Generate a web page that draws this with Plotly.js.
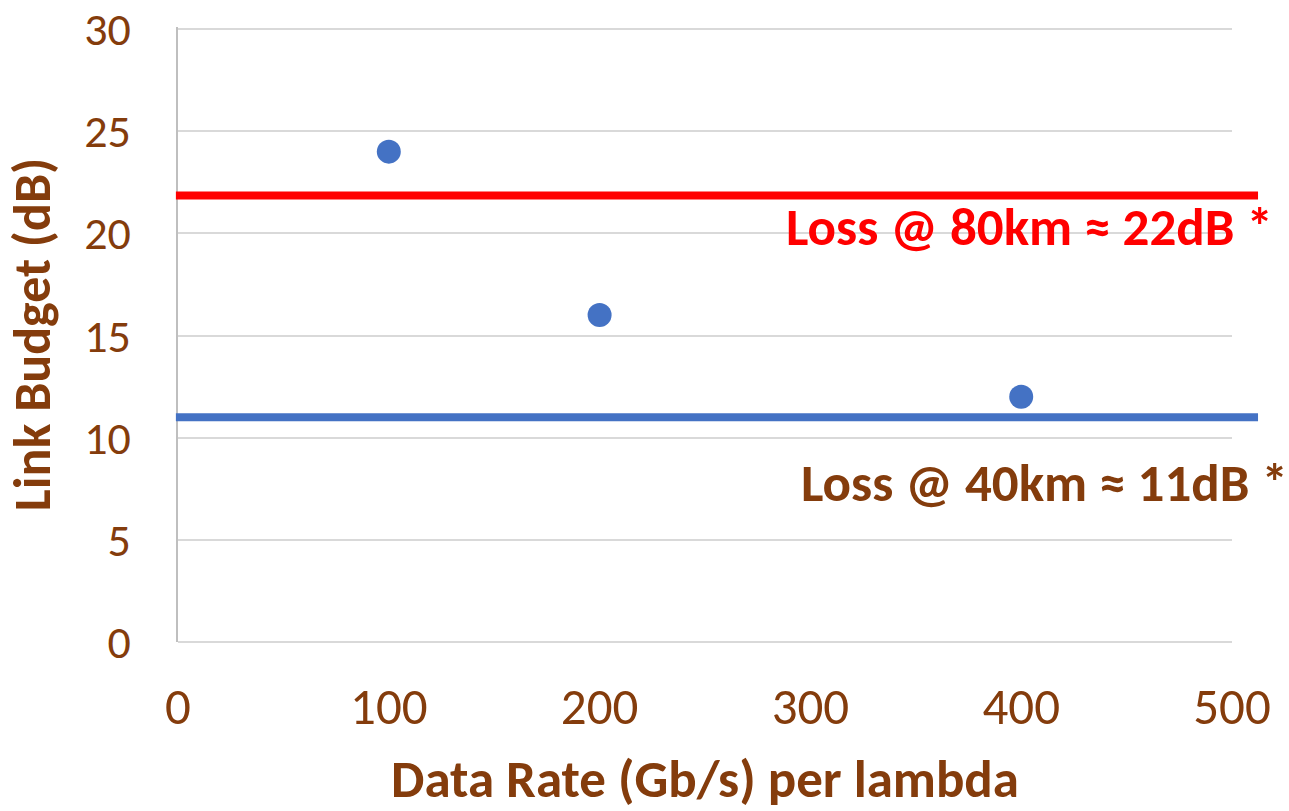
<!DOCTYPE html>
<html>
<head>
<meta charset="utf-8">
<script src="https://cdn.plot.ly/plotly-3.0.1.min.js"></script>
<style>html,body{margin:0;padding:0;background:#fff;}#chart{width:1289px;height:811px;}</style>
</head>
<body>
<div id="chart"></div>
<script>
const dataRates = [100, 200, 400];
const linkBudgets = [24, 16, 12];
const lossLevels = [21.85, 11];
const lossLabels = ["Loss @ 80km ≈ 22dB *", "Loss @ 40km ≈ 11dB *"];
const xTicks = [0, 100, 200, 300, 400, 500];
const yTicks = [0, 5, 10, 15, 20, 25, 30];

const brown = "#843C0C";
const font = "Carlito, Lato, 'Open Sans', sans-serif";

const trace = {
  x: dataRates, y: linkBudgets, type: "scatter", mode: "markers",
  marker: {color: "#4472C4", size: 24},
  cliponaxis: false, hoverinfo: "skip"
};

const lineColors = ["#FF0000", "#4472C4"];
const textColors = ["#FF0000", brown];
const labelPos = [{x: 1.041, y: 0.6755}, {x: 1.0546, y: 0.2585}];

const shapes = lossLevels.map((v, i) => ({
  type: "line", xref: "paper", yref: "y",
  x0: -0.002, x1: 1.0247, y0: v, y1: v,
  line: {color: lineColors[i], width: 8}
}));

const annotations = lossLabels.map((t, i) => ({
  text: "<b>" + t + "</b>", xref: "paper", yref: "paper",
  x: labelPos[i].x, y: labelPos[i].y, xanchor: "right", yanchor: "middle",
  showarrow: false, font: {family: font, size: 53, color: textColors[i]}
}));

const layout = {
  width: 1289, height: 811,
  margin: {l: 178, r: 57, t: 27, b: 169},
  paper_bgcolor: "#fff", plot_bgcolor: "#fff",
  showlegend: false,
  font: {family: font, color: brown, size: 50},
  xaxis: {
    range: [0, 500], tickvals: xTicks, ticktext: xTicks.map(String),
    showgrid: false, zeroline: false, showline: false, ticks: "",
    ticklabelstandoff: 30,
    tickfont: {family: font, size: 51, color: brown},
    title: {text: "<b>Data Rate (Gb/s) per lambda</b>", font: {family: font, size: 53, color: brown}, standoff: 39}
  },
  yaxis: {
    range: [0, 30.1], tickvals: yTicks, ticktext: yTicks.map(String),
    showgrid: true, gridcolor: "#d9d9d9", gridwidth: 2,
    zeroline: true, zerolinecolor: "#d9d9d9", zerolinewidth: 2,
    showline: true, linecolor: "#bfbfbf", linewidth: 2, ticks: "",
    ticklabelstandoff: 36, ticklabeloverflow: "allow",
    tickfont: {family: font, size: 46, color: brown},
    title: {text: "<b>Link Budget (dB)</b>", font: {family: font, size: 52, color: brown}, standoff: 20}
  },
  shapes: shapes,
  annotations: annotations
};

Plotly.newPlot("chart", [trace], layout, {staticPlot: true, displayModeBar: false});
</script>
</body>
</html>
